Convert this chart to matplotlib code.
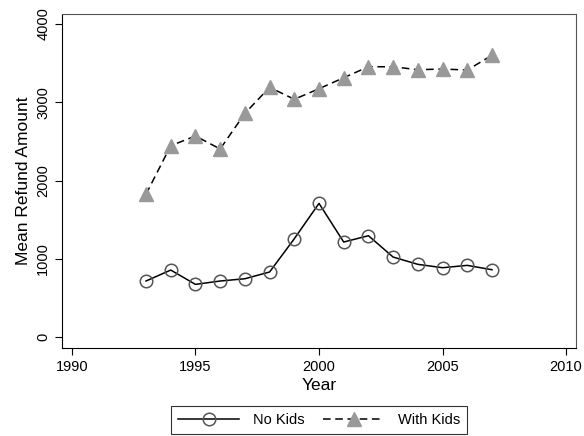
import matplotlib
matplotlib.use("Agg")
import matplotlib.pyplot as plt

plt.rcParams['font.family'] = ['Liberation Sans', 'DejaVu Sans']

years = [1993, 1994, 1995, 1996, 1997, 1998, 1999, 2000, 2001, 2002, 2003, 2004, 2005, 2006, 2007]
no_kids = [716, 856, 673, 716, 745, 831, 1256, 1708, 1214, 1295, 1022, 929, 886, 916, 860]
with_kids = [1825, 2445, 2569, 2403, 2858, 3191, 3038, 3173, 3314, 3454, 3454, 3416, 3425, 3412, 3600]
xticks = [1990, 1995, 2000, 2005, 2010]
yticks = [0, 1000, 2000, 3000, 4000]

fig = plt.figure(figsize=(5.84, 4.36), dpi=100)
ax = fig.add_axes([62/584, 1-348/436, (576-62)/584, (348-14)/436])

ax.plot(years, no_kids, color='black', lw=1.1, marker='o', markersize=9,
        markerfacecolor='none', markeredgecolor='#555555', markeredgewidth=1.1, label='No Kids')
ax.plot(years, with_kids, color='black', lw=1.1, ls=(0, (5, 3)), marker='^', markersize=9.5,
        markerfacecolor='#999999', markeredgecolor='#999999', label='With Kids')

ax.set_xlim(1989.6, 2010.4)
ax.set_ylim(-140, 4128)
ax.set_xticks(xticks)
ax.set_yticks(yticks)
ax.set_yticklabels([str(v) for v in yticks], rotation=90, va='center')
ax.tick_params(axis='both', direction='out', length=5, width=0.8, labelsize=10.5, colors='black')
for side in ['top', 'right']:
    ax.spines[side].set_color('#555555')
for side in ['left', 'bottom']:
    ax.spines[side].set_color('black')
ax.set_xlabel('Year', fontsize=12.5, labelpad=3)
ax.set_ylabel('Mean Refund Amount', fontsize=12.5)

leg = fig.legend(loc='center', bbox_to_anchor=(319/584, 1-420/436), ncol=2,
                 frameon=True, fancybox=False, edgecolor='black', fontsize=10.5,
                 handlelength=4.2, columnspacing=1.3, borderpad=0.5, handletextpad=0.9)
leg.get_frame().set_linewidth(0.8)

fig.savefig('out.png', dpi=100, facecolor='white')
